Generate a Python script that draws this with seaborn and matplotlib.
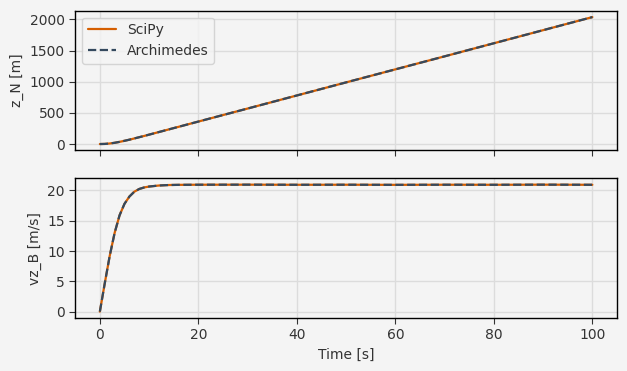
import pandas as pd
import matplotlib
matplotlib.use("Agg")
import matplotlib.pyplot as plt
import seaborn as sns

# values
time_s = [0, 1, 2, 3, 4, 5, 6, 7, 8, 9, 10, 12, 14, 16, 20,
          30, 40, 50, 60, 70, 80, 90, 100]
z_n = [0, 2, 9, 20, 35, 52, 70, 90, 110, 130, 151, 193, 235, 277, 361,
       570, 780, 990, 1199, 1408, 1618, 1828, 2038]
vz_b = [0, 4.7, 9.2, 13.0, 15.9, 17.8, 19.0, 19.8, 20.25, 20.5, 20.65, 20.82,
        20.9, 20.93, 20.95, 20.96, 20.94, 20.95, 20.93, 20.95, 20.94, 20.96, 20.94]

BG = "#f4f4f4"
sns.set_theme(style="whitegrid", rc={
    "axes.facecolor": BG,
    "figure.facecolor": BG,
    "axes.edgecolor": "black",
    "grid.color": "#dcdcdc",
    "xtick.bottom": True,
    "ytick.left": True,
    "text.color": "#333333",
    "axes.labelcolor": "#333333",
    "xtick.color": "#333333",
    "ytick.color": "#333333",
})
plt.rcParams["font.family"] = ["DejaVu Sans"]

df = pd.DataFrame({"t": time_s, "z": z_n, "vz": vz_b})

fig, (ax1, ax2) = plt.subplots(2, 1, figsize=(6.27, 3.71), dpi=100, sharex=True)
fig.subplots_adjust(left=0.12, right=0.984, top=0.971, bottom=0.143, hspace=0.2)

for ax, col, label in [(ax1, "z", "z_N [m]"), (ax2, "vz", "vz_B [m/s]")]:
    sns.lineplot(data=df, x="t", y=col, ax=ax, color="#d55e00", linewidth=1.6, label="SciPy")
    sns.lineplot(data=df, x="t", y=col, ax=ax, color="#34495e", linewidth=1.6,
                 linestyle="--", label="Archimedes")
    ax.set_ylabel(label, fontsize=10)
    ax.set_xlabel("")
    ax.tick_params(labelsize=10, length=4, width=0.8)
    for s in ax.spines.values():
        s.set_linewidth(1.0)
        s.set_color("black")

ax1.set_yticks([0, 500, 1000, 1500, 2000])
ax2.set_yticks([0, 5, 10, 15, 20])
ax2.set_xlabel("Time [s]", fontsize=10)
ax2.get_legend().remove()
leg = ax1.legend(loc="upper left", fontsize=10, frameon=True)
leg.get_frame().set_facecolor(BG)
leg.get_frame().set_edgecolor("#cccccc")

fig.savefig("out.png", dpi=100, facecolor=BG)
